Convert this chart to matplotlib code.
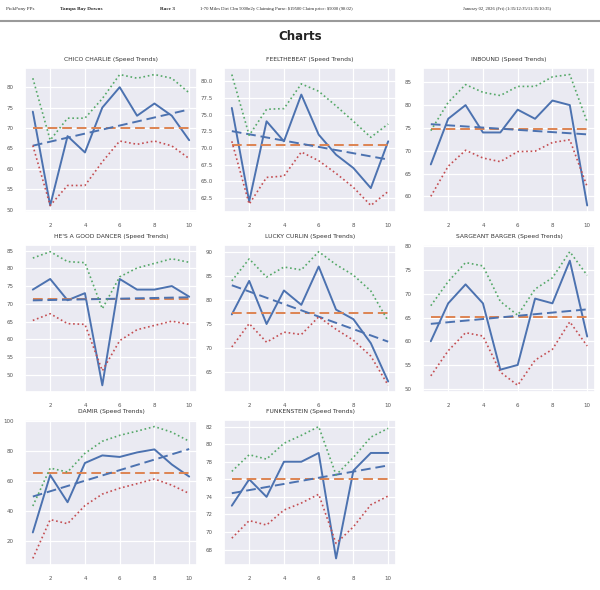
import numpy as np
import matplotlib
matplotlib.use("Agg")
import matplotlib.pyplot as plt
import seaborn as sns

sns.set_theme(style="darkgrid")
plt.rcParams['font.family'] = ['DejaVu Sans']

# Данные: номера забегов и скоростные рейтинги
races = [1, 2, 3, 4, 5, 6, 7, 8, 9, 10]

names = ["CHICO CHARLIE", "FEELTHEBEAT", "INBOUND", "HE'S A GOOD DANCER",
         "LUCKY CURLIN", "SARGEANT BARGER", "DAMIR", "FUNKENSTEIN"]

chico_speed = [74, 51, 68, 64, 75, 80, 73, 76, 73, 67]
chico_upper = [82.2, 67.0, 72.4, 72.4, 77.2, 83.1, 82.2, 83.1, 82.2, 78.6]
chico_lower = [65.7, 51.0, 55.9, 55.9, 61.7, 66.8, 66.0, 66.8, 65.6, 62.5]

feel_speed = [76, 62, 74, 71, 78, 72, 69, 67, 64, 71]
feel_upper = [81.0, 71.9, 75.8, 75.9, 79.6, 78.5, 76.3, 74.0, 71.6, 73.6]
feel_lower = [71.0, 61.6, 65.6, 65.8, 69.4, 68.1, 66.2, 64.1, 61.4, 63.5]

inbound_speed = [67, 77, 80, 74, 74, 79, 77, 81, 80, 58]
inbound_upper = [74.4, 80.6, 84.5, 82.8, 82.1, 84.1, 84.1, 86.2, 86.7, 76.3]
inbound_lower = [60.0, 66.6, 70.1, 68.4, 67.6, 69.8, 69.9, 71.8, 72.4, 62.1]

dancer_speed = [74, 77, 71, 73, 47, 77, 74, 74, 75, 72]
dancer_upper = [82.9, 84.7, 81.9, 81.6, 68.6, 77.6, 80.1, 81.4, 82.7, 81.7]
dancer_lower = [65.3, 67.2, 64.4, 64.2, 51.1, 59.6, 62.7, 63.9, 65.1, 64.2]

lucky_speed = [77, 84, 75, 82, 79, 87, 78, 76, 71, 63]
lucky_upper = [84.0, 88.6, 84.8, 86.9, 86.3, 90.1, 87.4, 85.2, 81.9, 75.6]
lucky_lower = [70.2, 75.1, 71.2, 73.3, 72.8, 76.5, 73.9, 71.6, 68.3, 62.2]

sarg_speed = [60, 68, 72, 68, 54, 55, 69, 68, 77, 61]
sarg_upper = [67.5, 72.6, 76.6, 75.9, 68.4, 65.5, 71.0, 73.4, 78.9, 73.9]
sarg_lower = [52.7, 58.0, 61.8, 61.1, 53.5, 50.7, 56.0, 58.3, 64.1, 59.0]

damir_speed = [26, 64, 46, 72, 77, 76, 79, 81, 71, 63]
damir_upper = [43.5, 68.6, 66.0, 78.4, 86.4, 90.3, 93.1, 96.1, 92.4, 86.4]
damir_lower = [8.8, 34.5, 31.8, 43.8, 51.4, 55.3, 58.3, 61.4, 57.3, 51.8]

funk_speed = [73, 76, 74, 78, 78, 79, 67, 77, 79, 79]
funk_upper = [76.9, 78.8, 78.3, 80.1, 81.0, 82.0, 76.5, 78.5, 80.8, 81.8]
funk_lower = [69.3, 71.3, 70.8, 72.5, 73.3, 74.3, 68.7, 70.6, 73.1, 74.1]

speeds = [chico_speed, feel_speed, inbound_speed, dancer_speed,
          lucky_speed, sarg_speed, damir_speed, funk_speed]
uppers = [chico_upper, feel_upper, inbound_upper, dancer_upper,
          lucky_upper, sarg_upper, damir_upper, funk_upper]
lowers = [chico_lower, feel_lower, inbound_lower, dancer_lower,
          lucky_lower, sarg_lower, damir_lower, funk_lower]

pal = sns.color_palette("deep")

fig = plt.figure(figsize=(6, 5.9), dpi=100)
fig.patch.set_facecolor("white")

# шапка страницы
hdr_y = 1 - 9 / 590
fig.text(6 / 600, hdr_y, "PickPony PPs", fontsize=3.6, family="Liberation Serif", va="center")
fig.text(60 / 600, hdr_y, "Tampa Bay Downs", fontsize=3.8, family="Liberation Serif",
         weight="bold", va="center")
fig.text(160 / 600, hdr_y, "Race 3", fontsize=3.8, family="Liberation Serif",
         weight="bold", va="center")
fig.text(200 / 600, hdr_y,
         r"1-70 Miles Dirt Clm 5000n2y Claiming Purse: \$19500 Claim price: \$5000 (98.02)",
         fontsize=3.3, family="Liberation Serif", va="center")
fig.text(463 / 600, hdr_y, "January 02, 2026 (Fri) (1:35/12:35/11:35/10:35)",
         fontsize=3.3, family="Liberation Serif", va="center")
fig.add_artist(plt.Line2D([0, 1], [1 - 21 / 590, 1 - 21 / 590], color="#9a9a9a", lw=1.5))
fig.text(0.5, 1 - 36 / 590, "Charts", fontsize=8.5, weight="bold", ha="center",
         va="center", color="#222222")

lefts = [25 / 600, 224 / 600, 423 / 600]
rows = [(68, 212), (245, 392), (420, 565)]
w = 172 / 600

for i, name in enumerate(names):
    r, c = divmod(i, 3)
    top, bot = rows[r]
    ax = fig.add_axes([lefts[c], 1 - bot / 590, w, (bot - top) / 590])
    y = np.array(speeds[i], dtype=float)
    x = np.array(races)
    ax.plot(x, y, color=pal[0], lw=1.4)
    ax.plot(x, np.full_like(y, y.mean()), color=pal[1], lw=1.4, ls="--", dashes=(5, 2.5))
    k, b = np.polyfit(x, y, 1)
    ax.plot(x, k * x + b, color=pal[0], lw=1.4, ls="--", dashes=(5, 2.5))
    ax.plot(x, uppers[i], color=pal[2], lw=1.2, ls=":")
    ax.plot(x, lowers[i], color=pal[3], lw=1.2, ls=":")
    ax.set_title(f"{name} (Speed Trends)", fontsize=4.3, color="#333333", pad=5)
    ax.set_xticks([2, 4, 6, 8, 10])
    ax.tick_params(labelsize=4, colors="#555555", pad=2)
    ax.grid(color="white", lw=0.9)

fig.savefig("out.png", dpi=100, facecolor="white")
